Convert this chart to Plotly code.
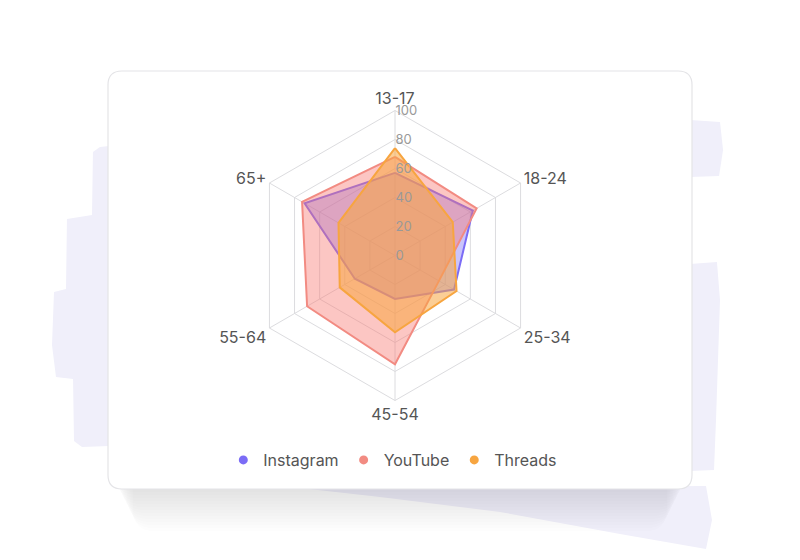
import plotly.graph_objects as go

# age groups around the radar, clockwise from the top
age_groups = ["13-17", "18-24", "25-34", "45-54", "55-64", "65+"]

instagram = [57, 62, 47, 30, 32, 72]
youtube = [68, 65, 35, 75, 70, 74]
threads = [74, 46, 49, 53, 44, 45]

radial_ticks = [0, 20, 40, 60, 80, 100]

series = [
    ("Instagram", instagram, "#7b6cf6", "rgba(123,108,246,0.40)"),
    ("YouTube", youtube, "#f28b82", "rgba(248,120,112,0.42)"),
    ("Threads", threads, "#f7a540", "rgba(247,165,64,0.55)"),
]

W, H = 800, 560
OFF = 8  # page margin of the browser body


def pt(x, y):
    # screen pixel -> paper coords
    return (x - OFF) / W, 1 - (y - OFF) / H


def poly_path(points):
    xs = ["%.4f,%.4f" % pt(x, y) for x, y in points]
    return "M " + " L ".join(xs) + " Z"


def rounded_rect(x0, y0, x1, y1, r):
    def p(x, y):
        return "%.4f,%.4f" % pt(x, y)
    return (f"M {p(x0 + r, y0)} L {p(x1 - r, y0)} Q {p(x1, y0)} {p(x1, y0 + r)} "
            f"L {p(x1, y1 - r)} Q {p(x1, y1)} {p(x1 - r, y1)} "
            f"L {p(x0 + r, y1)} Q {p(x0, y1)} {p(x0, y1 - r)} "
            f"L {p(x0, y0 + r)} Q {p(x0, y0)} {p(x0 + r, y0)} Z")


fig = go.Figure()

for name, vals, line_col, fill_col in series:
    fig.add_trace(go.Scatterpolar(
        r=vals + vals[:1], theta=age_groups + age_groups[:1],
        mode="lines", fill="toself", fillcolor=fill_col,
        line=dict(color=line_col, width=2),
        name=name, showlegend=False, hoverinfo="skip",
    ))

# legend entries with round markers
for name, vals, line_col, fill_col in series:
    fig.add_trace(go.Scatterpolar(
        r=[None], theta=[age_groups[0]], mode="markers",
        marker=dict(color=line_col, size=9, symbol="circle"),
        name=name, showlegend=True,
    ))

# lavender brush strokes behind the card
lavender = "#f0effa"
strokes = [
    [(100, 147), (109, 146), (109, 446), (82, 447), (74, 441), (73, 379), (56, 377),
     (52, 345), (54, 292), (66, 289), (67, 219), (92, 215), (93, 152)],
    [(690, 120), (720, 122), (723, 150), (719, 176), (690, 177)],
    [(690, 264), (717, 262), (720, 300), (718, 360), (716, 420), (714, 470), (690, 471)],
    [(300, 488), (706, 486), (712, 520), (706, 549), (620, 534), (500, 512), (380, 497)],
]
shapes = []
for s in strokes:
    shapes.append(dict(type="path", path=poly_path(s), xref="paper", yref="paper",
                       fillcolor=lavender, line=dict(width=0), layer="below"))

# soft shadow under the card
for k in range(1, 15):
    shapes.append(dict(type="path",
                       path=rounded_rect(112 + k * 1.5, 110, 688 - k * 1.5, 489 + k * 3, 22),
                       xref="paper", yref="paper",
                       fillcolor="rgba(70,70,100,0.010)", line=dict(width=0), layer="below"))

# the card itself
shapes.append(dict(type="path", path=rounded_rect(108, 71, 692, 489, 14),
                   xref="paper", yref="paper", fillcolor="white",
                   line=dict(color="#e4e4e7", width=1.2), layer="below"))

grid = "#dcdcdf"
fig.update_layout(
    width=W, height=H,
    margin=dict(l=0, r=0, t=0, b=0),
    paper_bgcolor="white",
    font=dict(family="Inter, Noto Sans, sans-serif", color="#555555"),
    shapes=shapes,
    polar=dict(
        domain=dict(x=[242 / W, 532 / W], y=[1 - 392.5 / H, 1 - 102.5 / H]),
        bgcolor="rgba(0,0,0,0)",
        gridshape="linear",
        angularaxis=dict(
            rotation=90, direction="clockwise",
            categoryorder="array", categoryarray=age_groups,
            tickfont=dict(size=16, color="#555555"),
            gridcolor=grid, linecolor=grid, showline=True, ticks="",
        ),
        radialaxis=dict(
            range=[0, 100], tickvals=radial_ticks, angle=90,
            tickfont=dict(size=13, color="#999999"),
            gridcolor=grid, showline=False, ticks="", tickangle=90,
        ),
    ),
    legend=dict(
        orientation="h", x=0.481, xanchor="center", y=1 - 452 / H, yanchor="middle",
        font=dict(size=16, color="#555555"), bgcolor="rgba(0,0,0,0)",
        itemwidth=30,
    ),
)

fig.write_html("out.html")
